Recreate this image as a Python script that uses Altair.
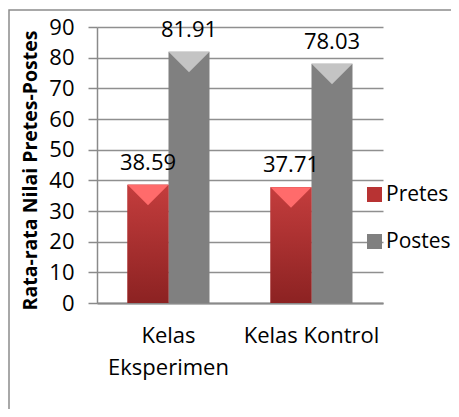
import altair as alt
import pandas as pd

categories = ["Kelas Eksperimen", "Kelas Kontrol"]
series = ["Pretes", "Postes"]
pretes = [38.59, 37.71]
postes = [81.91, 78.03]

rows = []
for i, c in enumerate(categories):
    rows.append({"kelas": c, "seri": "Pretes", "nilai": pretes[i]})
    rows.append({"kelas": c, "seri": "Postes", "nilai": postes[i]})
df = pd.DataFrame(rows)

FONT = "Open Sans"
W, H = 286, 276

base = alt.Chart(df)

x_enc = alt.X(
    "kelas:N",
    sort=categories,
    scale=alt.Scale(paddingInner=0, paddingOuter=0),
    axis=alt.Axis(
        title=None,
        labelAngle=0,
        ticks=False,
        labelFontSize=22,
        labelFont=FONT,
        labelColor="#000000",
        labelPadding=22,
        labelLineHeight=32,
        labelExpr="datum.label == 'Kelas Eksperimen' ? ['Kelas', 'Eksperimen'] : datum.label",
        domainColor="#8a8a8a",
        domainWidth=2,
        grid=False,
    ),
)
xo_enc = alt.XOffset(
    "seri:N", sort=series, scale=alt.Scale(paddingInner=0, paddingOuter=0.744)
)
y_enc = alt.Y(
    "nilai:Q",
    scale=alt.Scale(domain=[0, 90], nice=False),
    axis=alt.Axis(
        values=list(range(0, 91, 10)),
        title="Rata-rata Nilai Pretes-Postes",
        titleFont=FONT,
        titleFontSize=19.5,
        titleFontWeight="bold",
        titleColor="#000000",
        titleAngle=-90,
        titleAlign="center",
        titleBaseline="alphabetic",
        titleX=-61,
        titleY=143,
        labelFont=FONT,
        labelFontSize=22,
        labelColor="#000000",
        labelPadding=14,
        tickSize=9,
        tickColor="#8a8a8a",
        tickWidth=1.5,
        domainColor="#8a8a8a",
        domainWidth=1.5,
        grid=True,
        gridColor="#8f8f8f",
        gridWidth=1.5,
    ),
)

bars = base.mark_bar().encode(
    x=x_enc,
    xOffset=xo_enc,
    y=y_enc,
    color=alt.Color(
        "seri:N",
        sort=series,
        scale=alt.Scale(domain=series, range=["#B83333", "#808080"]),
        legend=alt.Legend(
            title=None,
            orient="none",
            legendX=267,
            legendY=157,
            symbolType="square",
            symbolSize=225,
            symbolStrokeWidth=0,
            labelFont=FONT,
            labelFontSize=21,
            labelColor="#000000",
            labelOffset=1,
            rowPadding=25,
            padding=0,
        ),
    ),
)

red_grad = alt.LinearGradient(
    gradient="linear",
    stops=[
        alt.GradientStop(color="#C43D3D", offset=0),
        alt.GradientStop(color="#8C2222", offset=1),
    ],
    x1=0, x2=0, y1=0, y2=1,
)
red_overlay = base.transform_filter("datum.seri == 'Pretes'").mark_bar(
    color=red_grad
).encode(x=x_enc, xOffset=xo_enc, y=y_enc)

tops = base.mark_point(
    shape="M-1,0L1,0L0,1Z", size=1681, filled=True, opacity=1, strokeWidth=0
).encode(
    x=x_enc,
    xOffset=xo_enc,
    y=y_enc,
    fill=alt.condition(
        "datum.seri == 'Pretes'", alt.value("#FF6B6B"), alt.value("#C4C4C4")
    ),
)

labels = base.mark_text(
    dy=-22, fontSize=22, font=FONT, color="#000000", baseline="middle"
).encode(
    x=x_enc,
    xOffset=xo_enc,
    y=y_enc,
    text=alt.Text("nilai:Q", format=".2f"),
)

border = alt.Chart(pd.DataFrame({"a": [0]})).mark_rect(
    fillOpacity=0, stroke="#8c8c8c", strokeWidth=1.5
).encode(
    x=alt.value(-88),
    x2=alt.value(W + 75),
    y=alt.value(-17),
    y2=alt.value(H + 120),
)

chart = (
    alt.layer(border, bars, red_overlay, tops, labels)
    .properties(
        width=W,
        height=H,
        autosize=alt.AutoSizeParams(type="none"),
        padding={"left": 89, "top": 19, "right": 68, "bottom": 106},
    )
    .configure_view(stroke=None)
)

chart.save("out.html", embed_options={"renderer": "svg", "actions": False})
